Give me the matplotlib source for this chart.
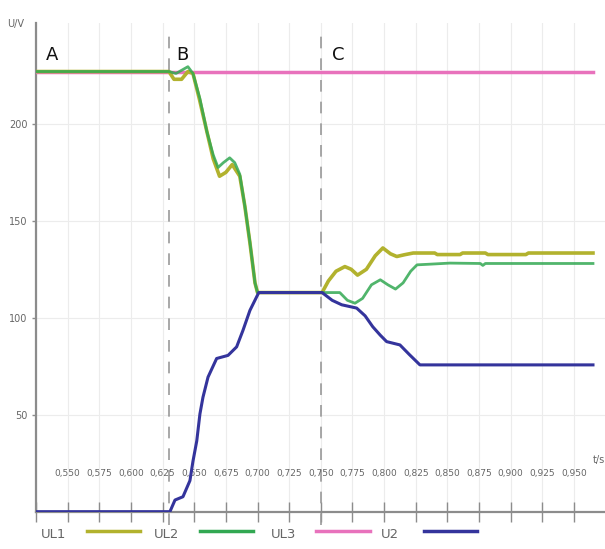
import matplotlib
matplotlib.use("Agg")
import matplotlib.pyplot as plt
from matplotlib.lines import Line2D

# ---- data ----
t_ul1 = [0.525, 0.630, 0.634, 0.640, 0.645, 0.649, 0.654, 0.660, 0.665, 0.670,
         0.675, 0.680, 0.686, 0.690, 0.694, 0.698, 0.700, 0.751, 0.756, 0.762,
         0.769, 0.774, 0.779, 0.786, 0.793, 0.799, 0.805, 0.810, 0.816, 0.823,
         0.840, 0.842, 0.860, 0.862, 0.880, 0.882, 0.912, 0.914, 0.965]
u_ul1 = [227, 227, 223, 223, 227, 226, 213, 196, 182, 173,
         175, 179, 173, 157.5, 138.6, 118, 113, 113, 119, 124,
         126.4, 125, 122, 125, 132, 136, 133, 131.6, 132.5, 133.4,
         133.4, 132.6, 132.6, 133.4, 133.4, 132.6, 132.6, 133.4, 133.4]

t_ul2 = [0.525, 0.630, 0.6356, 0.641, 0.645, 0.649, 0.6545, 0.660, 0.665, 0.6688,
         0.673, 0.678, 0.682, 0.686, 0.690, 0.694, 0.698, 0.700, 0.765, 0.771,
         0.777, 0.783, 0.790, 0.797, 0.803, 0.809, 0.815, 0.821, 0.826, 0.835,
         0.852, 0.876, 0.878, 0.880, 0.965]
u_ul2 = [227, 227, 226, 228, 229.5, 226, 213, 196, 184, 177.5,
         180, 182.5, 180, 174, 157.5, 139, 118, 113, 113, 109,
         107.5, 110, 117, 119.6, 117, 114.8, 118, 124, 127.3, 127.6,
         128.2, 128, 127, 128, 128]

t_ul3 = [0.525, 0.965]
u_ul3 = [227, 227]

t_u2 = [0.525, 0.6308, 0.6348, 0.6411, 0.6466, 0.649, 0.652, 0.6545, 0.6569, 0.6609,
        0.6677, 0.6767, 0.6835, 0.6885, 0.694, 0.6993, 0.701, 0.751, 0.759, 0.7665,
        0.7783, 0.785, 0.791, 0.797, 0.802, 0.8125, 0.820, 0.8283, 0.965]
u_u2 = [0, 0, 6, 7.7, 16, 26, 36.5, 50.4, 59, 69.4,
        79, 80.6, 85, 93.5, 103.8, 110.8, 113, 113, 109, 106.7,
        105, 101, 95.4, 91, 87.7, 86, 81, 75.7, 75.7]

x_ticks = [0.525, 0.550, 0.575, 0.600, 0.625, 0.650, 0.675, 0.700, 0.725, 0.750,
           0.775, 0.800, 0.825, 0.850, 0.875, 0.900, 0.925, 0.950]
y_ticks = [50, 100, 150, 200]
events = [0.630, 0.750]
event_labels = ["A", "B", "C"]
event_label_x = [0.538, 0.641, 0.764]

series = [("UL1", "#b2b22e"), ("UL2", "#32a852"), ("UL3", "#e872bc"), ("U2", "#34349c")]

fig = plt.figure(figsize=(6.05, 5.49), dpi=100)
ax = fig.add_axes([0.0595, 0.068, 0.9405, 0.890])
ax.set_xlim(0.525, 0.9745)
ax.set_ylim(0, 252)

grey = "#8c8c8c"
for s in ["top", "right"]:
    ax.spines[s].set_visible(False)
for s in ["left", "bottom"]:
    ax.spines[s].set_color(grey)
    ax.spines[s].set_linewidth(1.6)

ax.set_xticks(x_ticks)
ax.set_xticklabels([])
ax.tick_params(axis="x", direction="inout", length=14, width=1.0, colors=grey)
ax.set_yticks(y_ticks)
ax.set_yticklabels([str(v) for v in y_ticks], fontsize=7)
ax.tick_params(axis="y", direction="out", length=3, width=1.0, colors=grey, pad=3)
for lab in ax.get_yticklabels():
    lab.set_color("#666666")
ax.grid(True, color="#ececec", lw=0.8)
ax.set_axisbelow(True)

# x tick labels drawn above the axis, comma decimals
for xv in x_ticks[1:]:
    ax.text(xv, 0.079, f"{xv:.3f}".replace(".", ","), transform=ax.get_xaxis_transform(),
            ha="center", va="center", fontsize=6.5, color="#666666")
ax.text(0.9745, 0.105, "t/s", transform=ax.get_xaxis_transform(), ha="right", va="center",
        fontsize=7, color="#666666")
fig.text(0.025, 0.956, "U/V", fontsize=7, color="#666666", ha="center", va="center")

for xv in events:
    ax.axvline(xv, ymin=-0.028, ymax=0.986, color="#999999", lw=1.2,
               ls=(0, (7, 6)), clip_on=False, zorder=1)
for lab, xv in zip(event_labels, event_label_x):
    ax.text(xv, 0.935, lab, transform=ax.get_xaxis_transform(), fontsize=13,
            ha="center", va="center", color="#111111")

ax.plot(t_ul3, u_ul3, color=series[2][1], lw=2.5, zorder=3)
ax.plot(t_ul1, u_ul1, color=series[0][1], lw=2.6, zorder=4)
ax.plot(t_ul2, u_ul2, color=series[1][1], lw=2.0, alpha=0.85, zorder=5)
ax.plot(t_u2, u_u2, color=series[3][1], lw=2.2, zorder=6)

# legend row under the axis
label_x = [0.088, 0.276, 0.468, 0.645]
for (name, col), lx in zip(series, label_x):
    fig.text(lx, 0.014, name, fontsize=9.5, color="#666666", ha="center", va="bottom")
    fig.add_artist(Line2D([lx + 0.055, lx + 0.143], [0.0325, 0.0325], color=col, lw=2.5,
                          transform=fig.transFigure))

fig.savefig("out.png", dpi=100)
